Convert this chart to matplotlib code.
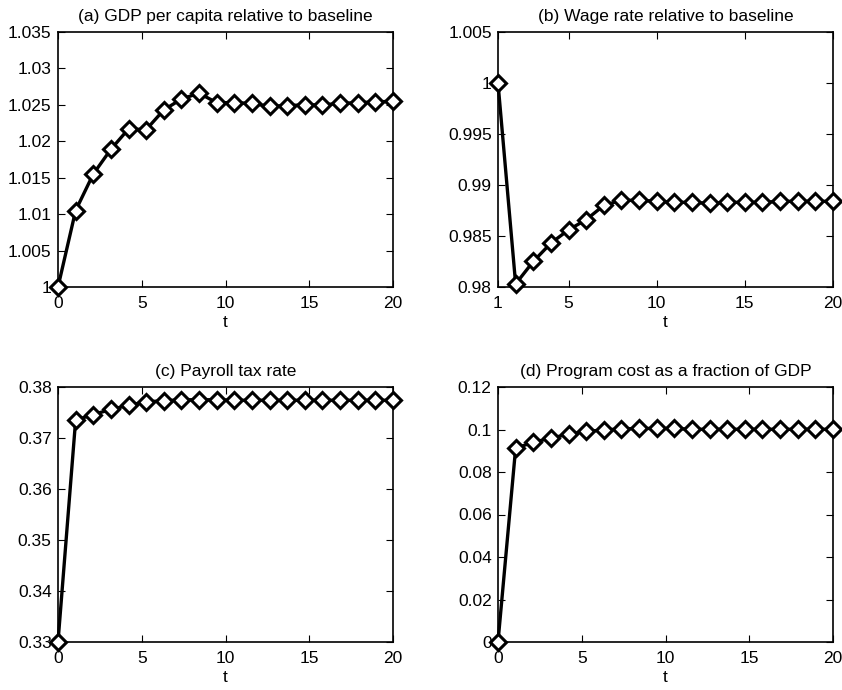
import numpy as np
import matplotlib
matplotlib.use("Agg")
import matplotlib.pyplot as plt

plt.rcParams['font.family'] = ['Liberation Sans', 'DejaVu Sans']

# ---- data ----
t_a = np.linspace(0, 20, 20)
gdp = [1.0000, 1.0105, 1.0155, 1.0189, 1.0217, 1.0216, 1.0243, 1.0258, 1.0266, 1.0253,
       1.0253, 1.0252, 1.0248, 1.0249, 1.0250, 1.0250, 1.0252, 1.0253, 1.0254, 1.0255]

t_b = np.arange(1, 21)
wage = [1.0000, 0.9803, 0.9825, 0.9843, 0.9856, 0.9866, 0.9880, 0.9885, 0.9885, 0.9884,
        0.9883, 0.9883, 0.9882, 0.9883, 0.9883, 0.9883, 0.9884, 0.9884, 0.9884, 0.9884]

t_c = np.linspace(0, 20, 20)
tax = [0.3300, 0.3735, 0.3746, 0.3756, 0.3764, 0.3771, 0.3773, 0.3775, 0.3775, 0.3775,
       0.3774, 0.3774, 0.3774, 0.3774, 0.3774, 0.3774, 0.3774, 0.3774, 0.3774, 0.3774]

t_d = np.linspace(0, 20, 20)
cost = [0.0000, 0.0912, 0.0940, 0.0959, 0.0978, 0.0991, 0.0998, 0.1003, 0.1005, 0.1005,
        0.1005, 0.1001, 0.1001, 0.1001, 0.1001, 0.1001, 0.1001, 0.1001, 0.1001, 0.1001]

titles = ['(a) GDP per capita relative to baseline',
          '(b) Wage rate relative to baseline',
          '(c) Payroll tax rate',
          '(d) Program cost as a fraction of GDP']

W, H = 842, 690
fig = plt.figure(figsize=(W / 100, H / 100), dpi=100)

def ax_at(l, t, r, b):
    return fig.add_axes([l / W, 1 - b / H, (r - l) / W, (b - t) / H])

axes = [ax_at(58, 32, 393, 287), ax_at(498, 32, 833, 287),
        ax_at(58, 387, 393, 642), ax_at(498, 387, 833, 642)]

specs = [
    (t_a, gdp, (0, 20), [0, 5, 10, 15, 20], ['0', '5', '10', '15', '20'],
     (1.0, 1.035), [1.0, 1.005, 1.01, 1.015, 1.02, 1.025, 1.03, 1.035],
     ['1', '1.005', '1.01', '1.015', '1.02', '1.025', '1.03', '1.035']),
    (t_b, wage, (1, 20), [1, 5, 10, 15, 20], ['1', '5', '10', '15', '20'],
     (0.98, 1.005), [0.98, 0.985, 0.99, 0.995, 1.0, 1.005],
     ['0.98', '0.985', '0.99', '0.995', '1', '1.005']),
    (t_c, tax, (0, 20), [0, 5, 10, 15, 20], ['0', '5', '10', '15', '20'],
     (0.33, 0.38), [0.33, 0.34, 0.35, 0.36, 0.37, 0.38],
     ['0.33', '0.34', '0.35', '0.36', '0.37', '0.38']),
    (t_d, cost, (0, 20), [0, 5, 10, 15, 20], ['0', '5', '10', '15', '20'],
     (0.0, 0.12), [0, 0.02, 0.04, 0.06, 0.08, 0.1, 0.12],
     ['0', '0.02', '0.04', '0.06', '0.08', '0.1', '0.12']),
]

for ax, title, (x, y, xl, xt, xtl, yl, yt, ytl) in zip(axes, titles, specs):
    ax.plot(x, y, color='black', lw=2.4, marker='D', markersize=8,
            markerfacecolor='white', markeredgecolor='black', markeredgewidth=2.2,
            clip_on=False, zorder=3)
    ax.set_xlim(*xl)
    ax.set_ylim(*yl)
    ax.set_xticks(xt)
    ax.set_xticklabels(xtl)
    ax.set_yticks(yt)
    ax.set_yticklabels(ytl)
    ax.tick_params(direction='in', top=True, right=True, length=5, width=0.8,
                   labelsize=12.5)
    ax.tick_params(axis='x', pad=6.5)
    ax.tick_params(axis='y', pad=4.5)
    ax.set_xlabel('t', fontsize=12.5, labelpad=3)
    ax.set_title(title, fontsize=12.5, pad=8)
    for s in ax.spines.values():
        s.set_linewidth(1.2)

fig.savefig('out.png', dpi=100)
